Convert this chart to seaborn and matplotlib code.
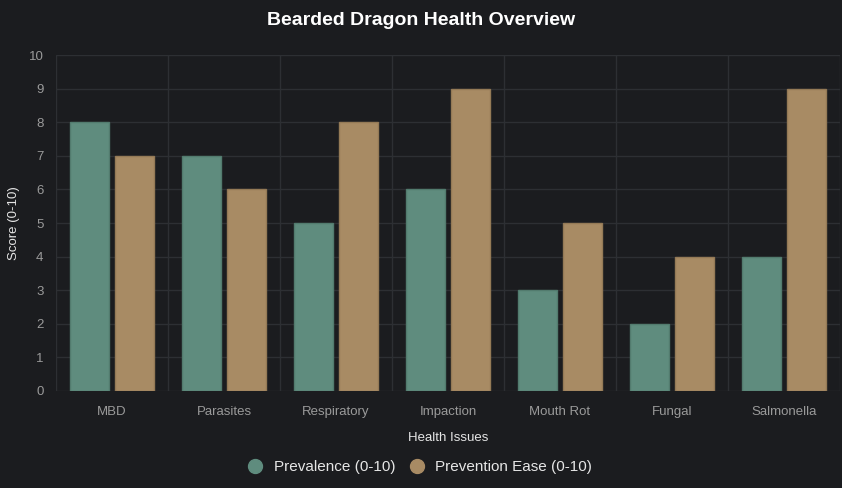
import numpy as np
import pandas as pd
import matplotlib.pyplot as plt
import seaborn as sns
from matplotlib.lines import Line2D

issues = ['MBD', 'Parasites', 'Respiratory', 'Impaction', 'Mouth Rot', 'Fungal', 'Salmonella']
prevalence = [8, 7, 5, 6, 3, 2, 4]
prevention = [7, 6, 8, 9, 5, 4, 9]
series = ['Prevalence (0-10)', 'Prevention Ease (0-10)']

df = pd.DataFrame({'issue': issues * 2,
                   'score': prevalence + prevention,
                   'series': [series[0]] * 7 + [series[1]] * 7})

bg = '#1b1c1f'
grid = '#2d2f33'
colors = ['#5f8c7e', '#a88b64']
edges = ['#527b6e', '#947a56']

sns.set_style('dark')
plt.rcParams['font.family'] = ['Liberation Sans', 'DejaVu Sans']

fig = plt.figure(figsize=(8.42, 4.88), dpi=100, facecolor=bg)
ax = fig.add_axes([0.0665, 0.199, 0.931, 0.688])
ax.set_facecolor(bg)

sns.barplot(data=df, x='issue', y='score', hue='series', palette=colors,
            width=0.8, gap=0.125, ax=ax, legend=False, saturation=1)
for i, cont in enumerate(ax.containers):
    for bar in cont:
        bar.set_edgecolor(edges[i])
        bar.set_linewidth(1)

ax.set_ylim(0, 10)
ax.set_xlim(-0.5, len(issues) - 0.5)
ax.set_yticks(range(0, 11))
ax.set_xticks(range(len(issues)))
ax.set_xticklabels(issues)
ax.set_xticks(np.arange(-0.5, len(issues), 1), minor=True)
ax.grid(False)
ax.yaxis.grid(True, color=grid, linewidth=1)
ax.xaxis.grid(True, which='minor', color=grid, linewidth=1)
ax.set_axisbelow(True)
for s in ax.spines.values():
    s.set_visible(False)
ax.tick_params(axis='x', which='major', length=0, colors='#9a9a9a', labelsize=9.5, pad=11)
ax.tick_params(axis='x', which='minor', length=6.5, color=grid, width=1)
ax.tick_params(axis='y', length=6, color=grid, colors='#9a9a9a', labelsize=9.5, pad=3)

ax.set_xlabel('Health Issues', color='#e6e6e6', fontsize=9.5, labelpad=10)
ax.set_ylabel('Score (0-10)', color='#e6e6e6', fontsize=9.5, labelpad=6)
fig.suptitle('Bearded Dragon Health Overview', color='white', fontsize=14,
             fontweight='bold', y=0.975)

handles = [Line2D([], [], marker='o', linestyle='', markersize=10,
                  markerfacecolor=c, markeredgecolor=c) for c in colors]
fig.legend(handles, series, loc='center', bbox_to_anchor=(0.494, 0.043), ncol=2,
           frameon=False, fontsize=11, labelcolor='#e6e6e6', handletextpad=0.2,
           columnspacing=0.4)

fig.savefig('out.png', dpi=100, facecolor=bg)
